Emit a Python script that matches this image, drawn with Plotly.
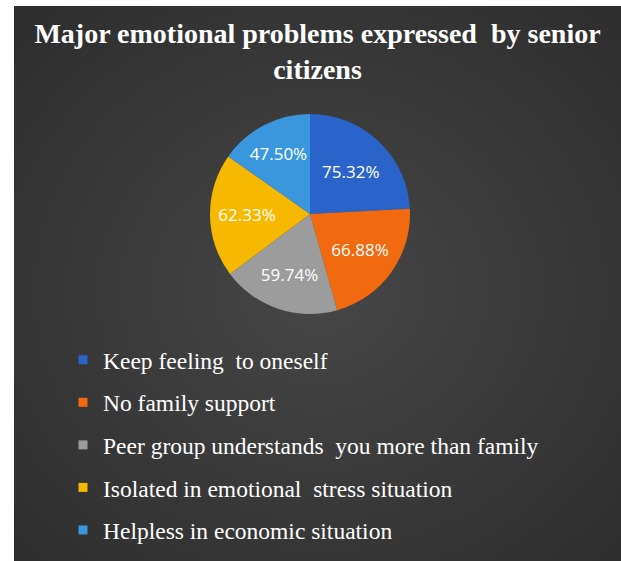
import plotly.graph_objects as go

categories = [
    "Keep feeling  to oneself",
    "No family support",
    "Peer group understands  you more than family",
    "Isolated in emotional  stress situation",
    "Helpless in economic situation",
]
values = [75.32, 66.88, 59.74, 62.33, 47.50]
colors = ["#2A63C9", "#F26A10", "#9C9C9C", "#F7B800", "#3B97DD"]

W, H = 621, 561
ML, MT = 14, 6
PW, PH = W - ML, H - MT

def px_x(x):
    return (x - ML) / PW

def px_y(y):
    return (H - y) / PH

fig = go.Figure()
fig.add_trace(go.Pie(
    labels=categories,
    values=values,
    sort=False,
    direction="clockwise",
    rotation=0,
    marker=dict(colors=colors, line=dict(width=0)),
    texttemplate="%{value:.2f}%",
    textposition="inside",
    insidetextorientation="horizontal",
    textfont=dict(family="Open Sans", size=17, color="white"),
    hoverinfo="label+value",
    showlegend=False,
    domain=dict(x=[px_x(210), px_x(410)], y=[px_y(314), px_y(114)]),
))

# legend entries (one per category, same colours as the slices)
for name, col in zip(categories, colors):
    fig.add_trace(go.Scatter(
        x=[None], y=[None], mode="markers", name=name,
        marker=dict(symbol="square", size=9, color=col),
        legendgroup=name, showlegend=True, hoverinfo="skip",
    ))

shapes = [dict(type="rect", xref="paper", yref="paper", x0=0, x1=1, y0=0, y1=1,
               fillcolor="#2C2C2C", line=dict(width=0), layer="below")]
cx, cy = px_x(320), px_y(290)
N = 26
for i in range(N):
    f = 1 - i / N
    rx = 440 * f / PW
    ry = 400 * f / PH
    shapes.append(dict(type="circle", xref="paper", yref="paper",
                       x0=cx - rx, x1=cx + rx, y0=cy - ry, y1=cy + ry,
                       fillcolor="rgba(255,255,255,0.0095)", line=dict(width=0), layer="below"))

fig.update_layout(
    width=W, height=H,
    margin=dict(l=ML, r=0, t=MT, b=0),
    paper_bgcolor="white",
    plot_bgcolor="rgba(0,0,0,0)",
    shapes=shapes,
    xaxis=dict(visible=False),
    yaxis=dict(visible=False),
    title=dict(
        text="<b>Major emotional problems expressed&nbsp; by senior<br>citizens</b>",
        x=0.5, xref="paper", xanchor="center",
        y=1 - 43 / H, yref="container", yanchor="top",
        font=dict(family="Liberation Serif", size=28, color="white"),
    ),
    legend=dict(
        x=px_x(63), y=px_y(338), xanchor="left", yanchor="top",
        font=dict(family="Liberation Serif", size=23.5, color="white"),
        bgcolor="rgba(0,0,0,0)",
        tracegroupgap=9,
        itemwidth=30,
        itemclick=False, itemdoubleclick=False,
    ),
    showlegend=True,
)

fig.write_html(
    "out.html",
    config={"displayModeBar": False},
    post_script="document.body.style.margin='0';document.body.style.overflow='hidden';",
)
